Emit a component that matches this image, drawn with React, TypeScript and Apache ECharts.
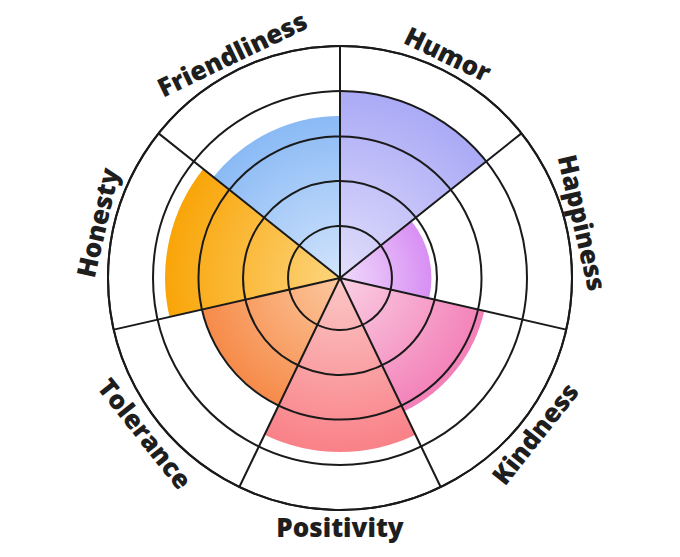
import React, { useEffect, useRef } from "react";
import * as echarts from "echarts";

const categories = ["Humor", "Happiness", "Kindness", "Positivity", "Tolerance", "Honesty", "Friendliness"];
const values = [4.03, 1.97, 3.19, 3.75, 3.04, 3.77, 3.49];
const ringValues = [1.12, 2.09, 3.05, 4.03, 5];
const innerColors = ["#e2defb", "#f0dafb", "#fad0e4", "#fbc8c6", "#fcc89e", "#fdd57e", "#d2e4fc"];
const outerColors = ["#aaaaf6", "#d88ff4", "#f380b8", "#f98188", "#f68b4a", "#f9a508", "#8abaf5"];

const W = 680;
const H = 557;
const CX = 340;
const CY = 278;
const R = 232;
const LABEL_R = 249;

export default function App() {
  const ref = useRef<HTMLDivElement>(null);
  useEffect(() => {
    document.body.style.margin = "0";
    const chart = echarts.init(ref.current!, undefined, { renderer: "svg" });
    const n = categories.length;
    const step = 360 / n;
    const graphics = categories.map((name, i) => {
      const a = (i + 0.5) * step; // clockwise from top, degrees
      const rad = (a * Math.PI) / 180;
      const x = CX + LABEL_R * Math.sin(rad);
      const y = CY - LABEL_R * Math.cos(rad);
      let rotDeg: number;
      if (a > 90 && a < 270) rotDeg = 180 - a;
      else rotDeg = a > 180 ? 360 - a : -a;
      return {
        type: "text",
        x,
        y,
        rotation: (rotDeg * Math.PI) / 180,
        style: {
          text: name,
          fill: "#1e1e1e",
          font: "800 26px 'Open Sans', 'Noto Sans', sans-serif",
          align: "center",
          verticalAlign: "middle",
        },
      };
    });
    chart.setOption({
      animation: false,
      backgroundColor: "#ffffff",
      polar: { center: [CX, CY], radius: [0, R] },
      angleAxis: {
        type: "category",
        data: categories,
        startAngle: 90,
        clockwise: true,
        z: 10,
        axisLine: { show: true, lineStyle: { color: "#1a1a1a", width: 2 } },
        axisTick: { show: false },
        axisLabel: { show: false },
        splitLine: { show: true, lineStyle: { color: "#1a1a1a", width: 2 } },
        splitArea: { show: false },
      },
      radiusAxis: {
        type: "value",
        min: 0,
        max: 5,
        z: 10,
        axisLine: { show: false },
        axisTick: { show: false, customValues: ringValues },
        axisLabel: { show: false, customValues: ringValues },
        splitLine: { show: true, lineStyle: { color: "#1a1a1a", width: 2 } },
        splitArea: { show: false },
      },
      series: [
        {
          type: "bar",
          coordinateSystem: "polar",
          barCategoryGap: "0%",
          z: 2,
          data: values.map((v, i) => ({
            value: v,
            itemStyle: {
              color: {
                type: "radial",
                x: CX,
                y: CY,
                r: (R * v) / 5,
                global: true,
                colorStops: [
                  { offset: 0, color: innerColors[i] },
                  { offset: 1, color: outerColors[i] },
                ],
              },
            },
          })),
        },
      ],
      graphic: graphics,
    });
    return () => chart.dispose();
  }, []);
  return <div ref={ref} style={{ width: W, height: H }} />;
}
